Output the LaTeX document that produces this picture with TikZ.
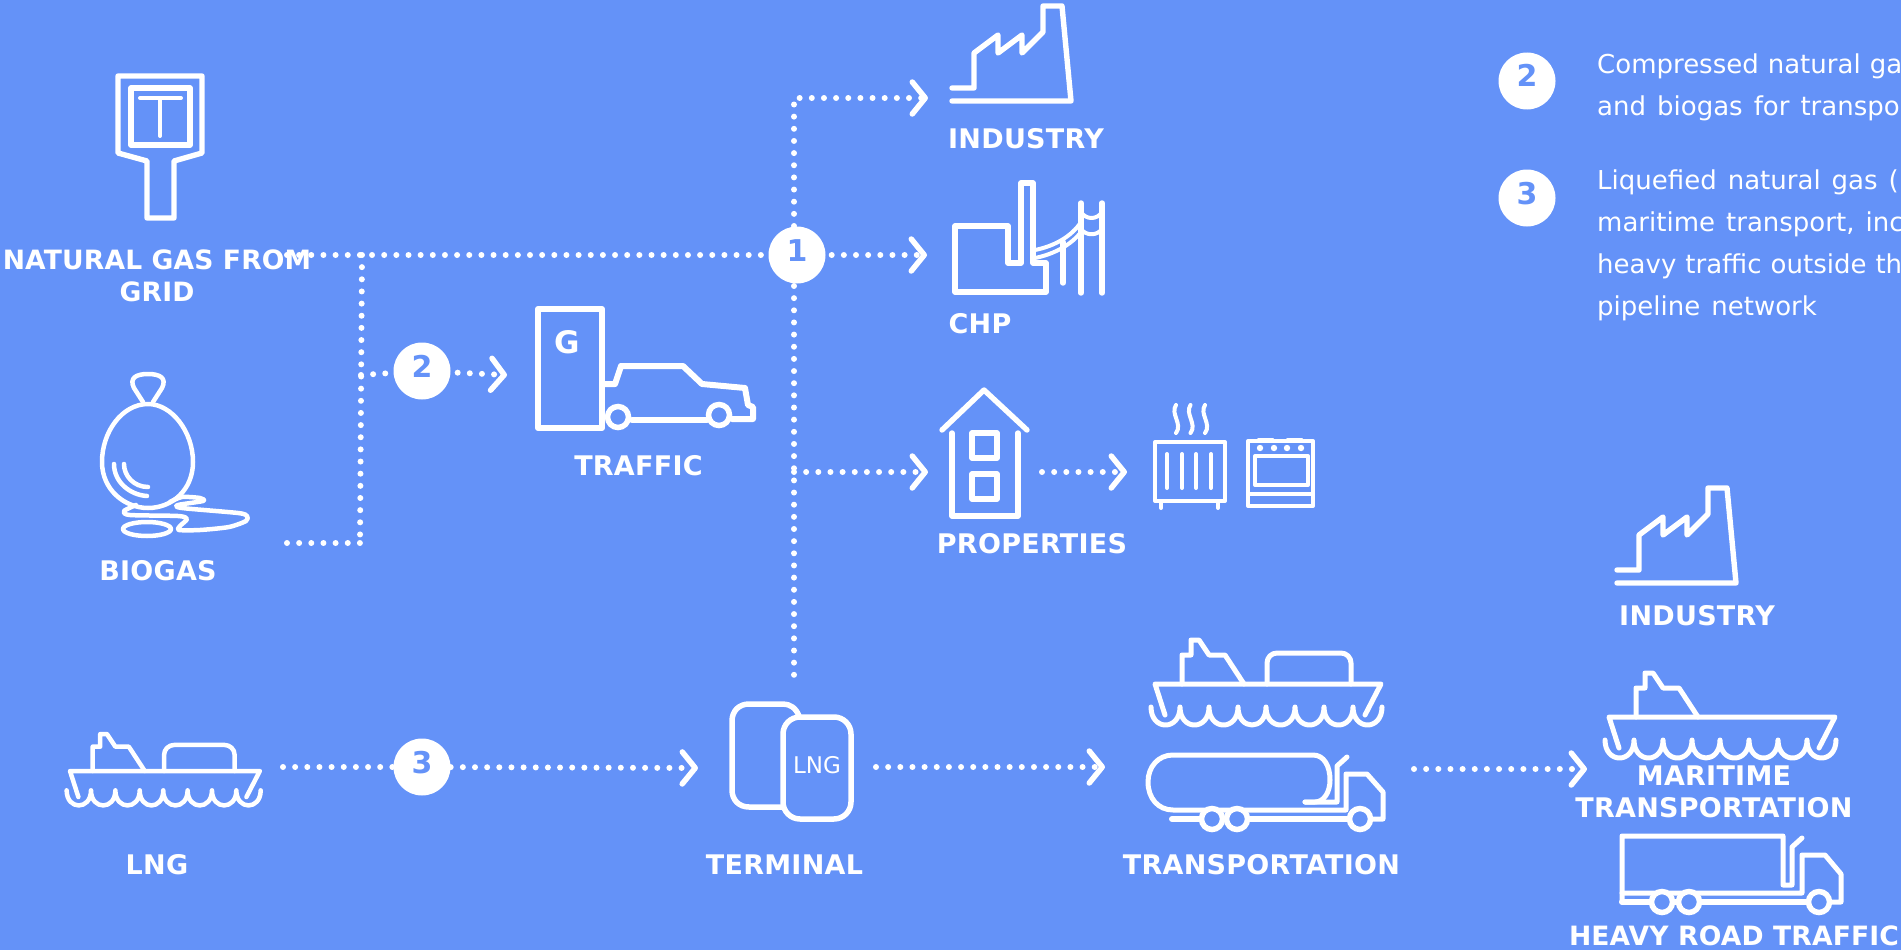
\documentclass[tikz,border=0pt]{standalone}
\usepackage{fontspec}
\setmainfont{DejaVu Sans}
\usetikzlibrary{arrows.meta}
\definecolor{bgblue}{RGB}{100,146,248}
\pgfdeclarelayer{bg}
\pgfdeclarelayer{conn}
\pgfsetlayers{bg,conn,main}
\tikzset{
  ln/.style={white,line width=#1,line cap=round,line join=round},
  ln/.default=5.4pt,
  flow/.style={white,line width=6pt,line cap=round,dash pattern=on 0pt off 12.15pt},
  flowtip/.style={flow,-{Straight Barb[length=13pt,width=32pt,line width=5.5pt,round]}},
  lab/.style={white,font=\fontsize{27}{32}\selectfont\bfseries\addfontfeatures{LetterSpace=1},align=center,inner sep=0pt,anchor=base},
  labtight/.style={lab,font=\fontsize{26.6}{32}\selectfont\bfseries\addfontfeatures{LetterSpace=.6}},
  body/.style={white,font=\fontsize{26}{30}\selectfont,inner sep=0pt,anchor=base west,execute at begin node={\spaceskip=#1\relax}},
  body/.default=11pt,
  badge/.style={circle,fill=white,minimum size=57pt,inner sep=0pt,text=bgblue,
    font=\fontsize{30}{32}\selectfont\bfseries,text height=22pt,text depth=10pt},
  shipw/.initial=5pt,
  factory/.pic={
    \draw[ln] (0,0) -- (22,0) -- (22,-35) -- (46,-53) -- (46,-35) -- (70,-53) -- (70,-35) -- (91,-56) -- (91,-82) -- (110,-82) -- (119,13) -- (0,13);
  },
  ship/.pic={
    \draw[ln=\pgfkeysvalueof{/tikz/shipw}] (10,31) -- (0,0) -- (226,0) -- (210,31);
    \draw[ln=\pgfkeysvalueof{/tikz/shipw}] (27,0) -- (27,-29) -- (36,-29) -- (36,-44) -- (44,-44) -- (54,-29) -- (70,-29) -- (89,0);
    \draw[ln=\pgfkeysvalueof{/tikz/shipw}] (-4,23)
      .. controls (-4,47) and (25,47) .. (25,23) .. controls (25,47) and (54,47) .. (54,23)
      .. controls (54,47) and (83,47) .. (83,23) .. controls (83,47) and (111,47) .. (111,23)
      .. controls (111,47) and (140,47) .. (140,23) .. controls (140,47) and (169,47) .. (169,23)
      .. controls (169,47) and (198,47) .. (198,23) .. controls (198,47) and (227,47) .. (227,23);
  },
  shiptank/.pic={
    \draw[ln=\pgfkeysvalueof{/tikz/shipw},rounded corners=10pt] (112,0) -- (112,-31) -- (196,-31) -- (196,0);
  },
  wheel/.style={circle,draw=white,fill=bgblue,line width=5.5pt,minimum size=21pt,inner sep=0pt},
}
\begin{document}
\begin{tikzpicture}[x=1pt,y=-1pt]
\useasboundingbox (0,0) rectangle (1901,950);
\begin{pgfonlayer}{bg}
\fill[bgblue] (0,0) rectangle (1901,950);
\end{pgfonlayer}
\clip (0,0) rectangle (1901,950);

% junction coordinates
\coordinate (gridout) at (287,255);
\coordinate (bioout) at (287,543);
\coordinate (junctop) at (362,255);
\coordinate (junbot) at (360,543);
\coordinate (junmid) at (361,375);
\coordinate (trtop) at (794,98);
\coordinate (trup) at (794,226);
\coordinate (trdown) at (794,286);
\coordinate (trprop) at (794,472);
\coordinate (trend) at (794,680);
\coordinate (indin) at (928,98);
\coordinate (chpin) at (927,255);
\coordinate (propin) at (928,472);
\coordinate (propout) at (1042,472);
\coordinate (appin) at (1127,472);
\coordinate (cartip) at (507,375);
\coordinate (lngout) at (283,767);
\coordinate (termin) at (698,768);
\coordinate (termout) at (876,767);
\coordinate (trin) at (1105,767);
\coordinate (trout) at (1414,769);
\coordinate (endin) at (1587,769);

\node[badge] (n1) at (797,255) {1};
\node[badge] (n2) at (422,371) {2};
\node[badge] (n3) at (422,767) {3};

% connectors
\begin{pgfonlayer}{conn}
\draw[flow] (gridout) -- (n1);
\draw[flow] (junctop) -- (junbot);
\draw[flow] (bioout) -- (junbot);
\draw[flow] (junmid) -- (n2);
\draw[flowtip,shorten <=7pt] (n2) -- (cartip);
\draw[flowtip] (trup) -- (trtop) -- (indin);
\draw[flowtip,shorten <=6pt] (n1) -- (chpin);
\draw[flow] (trdown) -- (trend);
\draw[flowtip] (trprop) -- (propin);
\draw[flowtip] (propout) -- (appin);
\draw[flow] (lngout) -- (n3);
\draw[flowtip] (n3) -- (termin);
\draw[flowtip] (termout) -- (trin);
\draw[flowtip] (trout) -- (endin);
\end{pgfonlayer}

% natural gas sign
\draw[ln] (118,76) -- (202,76) -- (202,153) -- (174,161) -- (174,218) -- (147,218) -- (147,161) -- (118,153) -- cycle;
\draw[ln] (131,88) rectangle (190,145);
\draw[ln=4pt] (140,98) -- (181,98) (160,98) -- (160,136);
\node[labtight] (grid) at (157,301) {NATURAL GAS FROM\\GRID};

% biogas
\draw[ln=4.5pt] (148,404) .. controls (122,404) and (102,432) .. (102,462) .. controls (102,490) and (125,508) .. (148,508) .. controls (172,508) and (193,490) .. (193,462) .. controls (193,432) and (172,404) .. (148,404);
\draw[ln=4.5pt] (143,402) -- (134,388) .. controls (129,378) and (136,374) .. (148,374) .. controls (160,374) and (167,378) .. (162,388) -- (153,402);
\draw[ln=4.5pt] (114,464) .. controls (114,482) and (130,495) .. (147,496);
\draw[ln=4.5pt] (124,464) .. controls (124,476) and (134,487) .. (148,487);
\draw[ln=4.5pt] plot[smooth,tension=.45] coordinates {(136,505) (124,511) (130,515) (178,516) (187,519) (180,526) (179,530) (200,530) (229,527) (246,521) (247,516) (238,513) (182,508) (178,505) (203,501) (200,498) (182,497) (170,502)};
\draw[ln=4.5pt] (147,529) ellipse (24pt and 7pt);
\node[lab] (biogas) at (158,580) {BIOGAS};

% pump and car
\draw[ln=6pt] (538,309) rectangle (602,428);
\node[white,font=\fontsize{31}{34}\selectfont\bfseries,inner sep=0pt] (g) at (567,342) {G};
\draw[ln=6pt] (602,384) -- (615,384) -- (621,366) -- (683,366) -- (702,384) -- (745,388) -- (748,405) -- (753,407) -- (753,419) -- (732,419);
\draw[ln=6pt] (707,420) -- (632,420);
\node[wheel] (w1) at (618,417) {};
\node[wheel] (w2) at (719,415) {};
\node[lab] (traffic) at (638.5,475) {TRAFFIC};

% industry
\pic at (952,88) {factory};
\node[lab] (ind1) at (1026,148) {INDUSTRY};

% CHP
\draw[ln] (955,292) -- (955,226) -- (1008,226) -- (1008,263) -- (1021,263) -- (1021,183) -- (1033,183) -- (1033,263) -- (1046,263) -- (1046,292) -- cycle;
\draw[ln] (1063,242) -- (1063,283) (1081,203) -- (1081,293) (1102,203) -- (1102,293);
\draw[ln=4pt] (1035,250) .. controls (1055,246) and (1072,236) .. (1081,222);
\draw[ln=4pt] (1035,258) .. controls (1055,254) and (1072,244) .. (1081,232);
\draw[ln=4pt] (1081,212) .. controls (1086,220) and (1097,220) .. (1102,212);
\draw[ln=4pt] (1081,229) .. controls (1086,236) and (1097,236) .. (1102,229);
\node[lab] (chp) at (980,333) {CHP};

% house
\draw[ln] (942,430) -- (984,390) -- (1027,430);
\draw[ln] (952,433) -- (952,516) -- (1018,516) -- (1018,433);
\draw[ln] (972,433) rectangle (997,458);
\draw[ln] (972,474) rectangle (997,499);
\node[lab] (prop) at (1032,553) {PROPERTIES};

% radiator
\draw[ln=4pt] (1155,442) rectangle (1225,501);
\draw[ln=4pt] (1161,501) -- (1161,508) (1218,501) -- (1218,508);
\foreach \x in {1167,1182,1196,1211} \draw[ln=4pt] (\x,454) -- (\x,488);
\foreach \x in {0,14.5,29} \draw[ln=4pt] (1176+\x,405) .. controls (1170+\x,414) and (1183+\x,424) .. (1176+\x,433);

% oven
\draw[ln=4pt] (1248,441) rectangle (1313,506);
\draw[ln=4pt] (1255,456) rectangle (1308,485);
\draw[ln=4pt] (1248,494) -- (1313,494);
\draw[ln=3pt] (1258,439.5) -- (1273,439.5) (1287,439.5) -- (1302,439.5);
\foreach \x in {1260,1274,1287,1301} \fill[white] (\x,448) circle (3.2pt);

% LNG ship
\begin{scope}[shipw=4.5pt]
\pic[scale=.84] at (70,771) {ship};
\pic[scale=.84] at (70,771) {shiptank};
\end{scope}
\node[lab] (lng) at (157,874) {LNG};

% terminal
\draw[ln=5.5pt] (799,716) .. controls (796,708) and (790,704) .. (783,704) -- (749,704) .. controls (739,704) and (732,711) .. (732,721) -- (732,790) .. controls (732,800) and (739,807) .. (749,807) -- (783,807);
\draw[ln=5.5pt,rounded corners=17pt] (783,717) rectangle (851,819);
\node[white,font=\fontsize{23}{26}\selectfont,inner sep=0pt,anchor=base] (lngt) at (817,773) {LNG};
\node[lab] (term) at (784.5,874) {TERMINAL};

% transport ship and tanker
\pic at (1155,684) {ship};
\pic at (1155,684) {shiptank};
\draw[ln=5pt] (1305,802) -- (1315,802) .. controls (1324,802) and (1330,792) .. (1330,780) .. controls (1330,766) and (1324,755) .. (1313,755) -- (1173,755) .. controls (1158,755) and (1148,767) .. (1148,782) .. controls (1148,798) and (1158,810) .. (1173,810) -- (1346,810) -- (1346,774) -- (1367,774) -- (1383,792) -- (1383,819) -- (1372,819);
\draw[ln=5pt] (1347,757) -- (1337,766) -- (1337,802) -- (1305,802);
\draw[ln=6pt] (1172,819) -- (1352,819);
\node[wheel] (t1) at (1212,819) {};
\node[wheel] (t2) at (1237,819) {};
\node[wheel] (t3) at (1360,819) {};
\node[lab] (transp) at (1261.5,874) {TRANSPORTATION};

% right column
\pic at (1617,570) {factory};
\node[lab] (ind2) at (1697,625) {INDUSTRY};
\pic at (1609,717) {ship};
\node[lab] (mar) at (1714,817) {MARITIME\\TRANSPORTATION};
\draw[ln=5pt] (1622,902) -- (1622,836) -- (1783,836) -- (1783,885) -- (1792,885) -- (1792,847) -- (1802,838);
\draw[ln=5pt] (1622,893) -- (1802,893) -- (1802,855) -- (1825,855) -- (1841,874) -- (1841,902) -- (1830,902);
\draw[ln=6pt] (1622,902) -- (1808,902);
\node[wheel] (h1) at (1662,902) {};
\node[wheel] (h2) at (1689,902) {};
\node[wheel] (h3) at (1819,902) {};
\node[labtight] (heavy) at (1734,945) {HEAVY ROAD TRAFFIC};

% legend
\node[badge] (k2) at (1527,81) {2};
\node[badge] (k3) at (1527,198) {3};
\node[body=9pt] (t1a) at (1597,74) {Compressed natural ga};
\node[body] (t1b) at (1597,115) {and biogas for transpo};
\node[body] (t2a) at (1597,189) {Liquefied natural gas (};
\node[body] (t2b) at (1597,231) {maritime transport, inc};
\node[body=9pt] (t2c) at (1597,273) {heavy traffic outside th};
\node[body] (t2d) at (1597,315) {pipeline network};
\end{tikzpicture}
\end{document}
